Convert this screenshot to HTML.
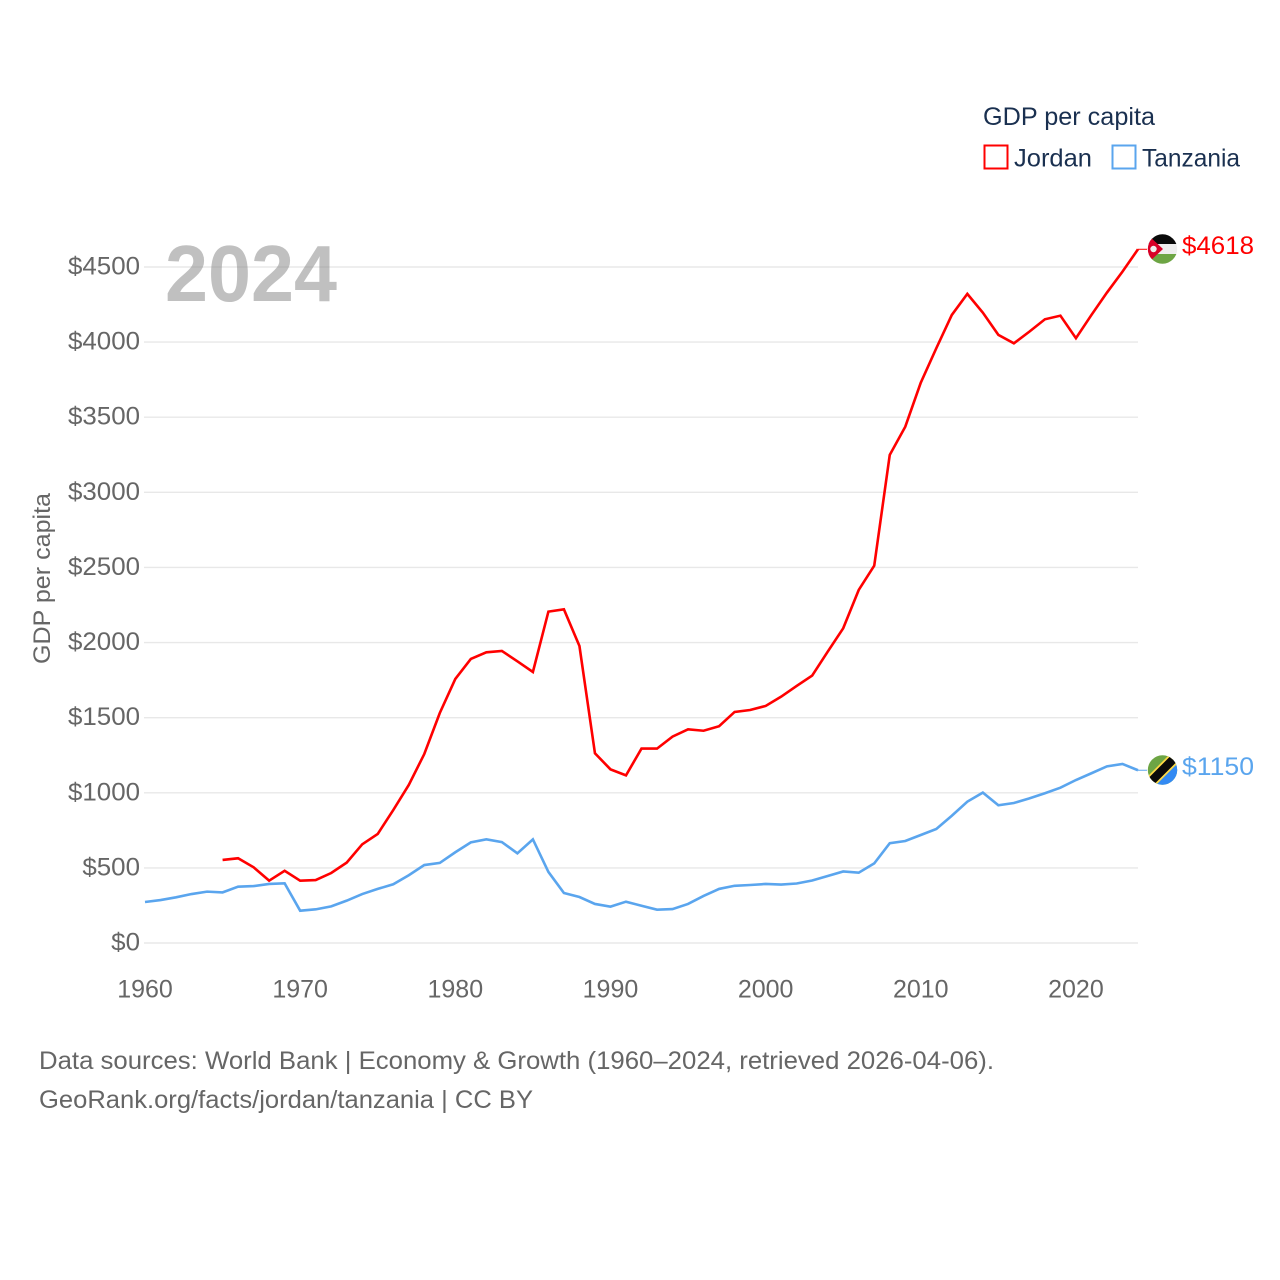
<!DOCTYPE html>
<html lang="en">
<head>
<meta charset="utf-8">
<title>GDP per capita: Jordan and Tanzania</title>
<style>
html,body{margin:0;padding:0;background:#fff;}
svg{display:block;font-family:"Liberation Sans",sans-serif;}
</style>
</head>
<body>
<svg id="chart" xmlns="http://www.w3.org/2000/svg" width="1280" height="1280" viewBox="0 0 1280 1280">
  <defs>
    <clipPath id="clip-jordan"><circle cx="1162.5" cy="249" r="14.7"/></clipPath>
    <clipPath id="clip-tanzania"><circle cx="1162.5" cy="770" r="14.7"/></clipPath>
  </defs>
  <rect width="1280" height="1280" fill="#ffffff"/>
  <g id="grid"></g>
  <g id="yticks"></g>
  <g id="xticks"></g>
  <text x="165" y="301" font-size="80" font-weight="bold" fill="#8c8c8c" fill-opacity="0.55" textLength="172" lengthAdjust="spacingAndGlyphs">2024</text>
  <text transform="translate(50,664) rotate(-90)" font-size="24" fill="#666666" textLength="171" lengthAdjust="spacingAndGlyphs">GDP per capita</text>
  <g id="series"></g>

  <g clip-path="url(#clip-jordan)">
    <rect x="1147" y="234" width="31" height="10" fill="#0a0a0a"/>
    <rect x="1147" y="244" width="31" height="10" fill="#eeeeee"/>
    <rect x="1147" y="254" width="31" height="10" fill="#6da544"/>
    <polygon points="1147,234 1163,249 1147,264" fill="#d80027"/>
    <circle cx="1153.5" cy="249" r="3.2" fill="#eeeeee"/>
  </g>
  <g clip-path="url(#clip-tanzania)">
    <rect x="1147" y="755" width="31" height="31" fill="#6da544"/>
    <polygon points="1178,755 1178,786 1147,786" fill="#338af3"/>
    <line x1="1147" y1="785.5" x2="1178" y2="754.5" stroke="#ffda44" stroke-width="12"/>
    <line x1="1147" y1="785.5" x2="1178" y2="754.5" stroke="#0a0a0a" stroke-width="8.5"/>
  </g>
  <text id="end-jordan" x="1182" y="254" font-size="25" fill="#ff0000" textLength="72" lengthAdjust="spacingAndGlyphs"></text>
  <text id="end-tanzania" x="1182" y="775" font-size="25" fill="#5aa5ee" textLength="72" lengthAdjust="spacingAndGlyphs"></text>

  <g>
    <text x="983" y="125" font-size="25" fill="#1a3050" textLength="172" lengthAdjust="spacingAndGlyphs">GDP per capita</text>
    <g>
      <rect x="984.5" y="145.5" width="23" height="23" fill="none" stroke="#ff0000" stroke-width="2"/>
      <text x="1014" y="166.5" font-size="25" fill="#1a3050" textLength="78" lengthAdjust="spacingAndGlyphs">Jordan</text>
    </g>
    <g>
      <rect x="1112.5" y="145.5" width="23" height="23" fill="none" stroke="#5aa5ee" stroke-width="2"/>
      <text x="1142" y="166.5" font-size="25" fill="#1a3050" textLength="98" lengthAdjust="spacingAndGlyphs">Tanzania</text>
    </g>
  </g>

  <text x="39" y="1069" font-size="25" fill="#666666" textLength="955" lengthAdjust="spacingAndGlyphs">Data sources: World Bank | Economy &amp; Growth (1960–2024, retrieved 2026-04-06).</text>
  <text x="39" y="1108" font-size="25" fill="#666666" textLength="494" lengthAdjust="spacingAndGlyphs">GeoRank.org/facts/jordan/tanzania | CC BY</text>
</svg>
<script>
const startYear = 1960;
const endYear = 2024;
const xTickYears = [1960, 1970, 1980, 1990, 2000, 2010, 2020];
const yTickValues = [0, 500, 1000, 1500, 2000, 2500, 3000, 3500, 4000, 4500];
const jordanStartYear = 1965;
const jordanValues = [553, 564, 504, 415, 481, 415, 419, 466, 535, 657, 726, 885, 1052, 1258, 1531, 1758, 1891, 1935, 1944, 1875, 1804, 2206, 2221, 1977, 1263, 1156, 1116, 1294, 1294, 1374, 1422, 1413, 1443, 1538, 1551, 1578, 1640, 1711, 1780, 1939, 2095, 2350, 2512, 3249, 3437, 3730, 3959, 4181, 4321, 4196, 4048, 3992, 4070, 4152, 4176, 4026, 4181, 4330, 4469, 4618];
const tanzaniaStartYear = 1960;
const tanzaniaValues = [273, 286, 304, 326, 342, 337, 375, 379, 393, 397, 215, 224, 244, 282, 326, 360, 391, 451, 519, 533, 604, 670, 690, 672, 597, 690, 473, 333, 306, 260, 242, 275, 248, 222, 226, 260, 313, 360, 381, 386, 393, 389, 396, 416, 446, 476, 468, 530, 664, 679, 719, 759, 847, 941, 1001, 917, 932, 963, 997, 1034, 1085, 1130, 1176, 1192, 1150];

const NS = 'http://www.w3.org/2000/svg';
const plotLeft = 145;
const plotRight = 1138;
const plotZero = 943;
const plotTop4500 = 267;
const flagEdge = 1147;

function xScale(year) {
  return plotLeft + (year - startYear) * (plotRight - plotLeft) / (endYear - startYear);
}
function yScale(value) {
  return plotZero - value * (plotZero - plotTop4500) / 4500;
}
function make(tag, parentId) {
  const el = document.createElementNS(NS, tag);
  document.getElementById(parentId).appendChild(el);
  return el;
}

yTickValues.forEach(function (v) {
  const y = yScale(v);
  const line = make('line', 'grid');
  
  
  line.setAttribute('x1', plotLeft - 1);
  line.setAttribute('x2', plotRight);
  line.setAttribute('y1', y);
  line.setAttribute('y2', y);
  line.setAttribute('stroke', '#e8e8e8');
  line.setAttribute('stroke-width', '1.4');

  const label = make('text', 'yticks');
  
  
  label.setAttribute('x', 140);
  label.setAttribute('y', y + 7.5);
  label.setAttribute('text-anchor', 'end');
  label.setAttribute('font-size', '25');
  label.setAttribute('fill', '#666666');
  label.textContent = '$' + v;
  label.setAttribute('textLength', String(label.textContent.length * 14.4));
  label.setAttribute('lengthAdjust', 'spacingAndGlyphs');
});

xTickYears.forEach(function (yr) {
  const label = make('text', 'xticks');
  
  
  label.setAttribute('x', xScale(yr));
  label.setAttribute('y', 997.5);
  label.setAttribute('text-anchor', 'middle');
  label.setAttribute('font-size', '25');
  label.setAttribute('fill', '#666666');
  label.textContent = String(yr);
});

function pointsFor(values, firstYear) {
  return values.map(function (v, i) {
    return xScale(firstYear + i).toFixed(2) + ',' + yScale(v).toFixed(2);
  }).join(' ');
}

const jordanLine = make('polyline', 'series');


jordanLine.setAttribute('points', pointsFor(jordanValues, jordanStartYear));
jordanLine.setAttribute('fill', 'none');
jordanLine.setAttribute('stroke', '#ff0000');
jordanLine.setAttribute('stroke-width', '2.6');
jordanLine.setAttribute('stroke-linejoin', 'miter');

const tanzaniaLine = make('polyline', 'series');


tanzaniaLine.setAttribute('points', pointsFor(tanzaniaValues, tanzaniaStartYear));
tanzaniaLine.setAttribute('fill', 'none');
tanzaniaLine.setAttribute('stroke', '#5aa5ee');
tanzaniaLine.setAttribute('stroke-width', '2.6');
tanzaniaLine.setAttribute('stroke-linejoin', 'miter');

const jordanLast = jordanValues[jordanValues.length - 1];
const tanzaniaLast = tanzaniaValues[tanzaniaValues.length - 1];

const jordanLeader = make('line', 'series');


jordanLeader.setAttribute('x1', xScale(endYear));
jordanLeader.setAttribute('x2', flagEdge);
jordanLeader.setAttribute('y1', yScale(jordanLast));
jordanLeader.setAttribute('y2', yScale(jordanLast));
jordanLeader.setAttribute('stroke', '#ff0000');
jordanLeader.setAttribute('stroke-width', '1');

const tanzaniaLeader = make('line', 'series');


tanzaniaLeader.setAttribute('x1', xScale(endYear));
tanzaniaLeader.setAttribute('x2', flagEdge);
tanzaniaLeader.setAttribute('y1', yScale(tanzaniaLast));
tanzaniaLeader.setAttribute('y2', yScale(tanzaniaLast));
tanzaniaLeader.setAttribute('stroke', '#5aa5ee');
tanzaniaLeader.setAttribute('stroke-width', '1');

document.getElementById('end-jordan').textContent = '$' + jordanLast;
document.getElementById('end-tanzania').textContent = '$' + tanzaniaLast;
</script>
</body>
</html>
